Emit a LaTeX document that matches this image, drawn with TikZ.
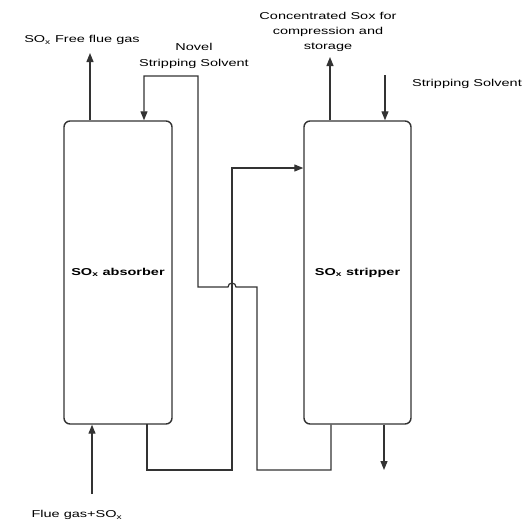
\documentclass[tikz,border=0pt]{standalone}
\usepackage{fontspec}
\setmainfont{Liberation Sans}
\usetikzlibrary{arrows.meta}
\newcommand{\W}[1]{\scalebox{1.45}[1]{#1}}
\begin{document}
\begin{tikzpicture}[x=1pt,y=-1pt,
  lbl/.style={font=\fontsize{10}{15}\selectfont, inner sep=0pt, text=black, align=center},
  vessel/.style={draw=black!80, line width=1.4pt, rounded corners=6pt, fill=white,
                 font=\fontsize{10}{12}\selectfont\bfseries, text=black},
  pipe/.style={draw=black!80, line width=1.2pt},
  arr/.style={pipe, -{Triangle[length=9pt,width=7pt]}}
]
\useasboundingbox (0,0) rectangle (523,523);

% vessels
\node[vessel, minimum width=108pt, minimum height=303pt] (abs) at (118,272.5) {\W{SO\textsubscript{x} absorber}};
\node[vessel, minimum width=107pt, minimum height=303pt] (str) at (357.5,272.5) {\W{SO\textsubscript{x} stripper}};

% named points
\coordinate (fgtop) at (90,53);
\coordinate (fgin) at (92,494);
\coordinate (absout) at (147,424);
\coordinate (absdn) at (147,470);
\coordinate (richb) at (232,470);
\coordinate (richt) at (232,168);
\coordinate (strret) at (331,424);
\coordinate (retb) at (331,470);
\coordinate (retc) at (257,470);
\coordinate (retd) at (257,287);
\coordinate (hopR) at (236,287);
\coordinate (rete) at (198,287);
\coordinate (retf) at (198,76);
\coordinate (retg) at (144,76);
\coordinate (soxtop) at (330,57);
\coordinate (solvtop) at (385,75);
\coordinate (botout) at (384,470);

% connectors
\draw[arr] (abs.north -| fgtop) -- (fgtop);
\draw[arr] (fgin) -- (abs.south -| fgin);
\draw[arr] (str.south -| strret) -- (retb) -- (retc) -- (retd) -- (hopR)
   arc[start angle=0, end angle=-180, radius=4] -- (rete) -- (retf) -- (retg) -- (abs.north -| retg);
\draw[arr] (absout) -- (absdn) -- (richb) -- (richt) -- (str.west |- richt);
\draw[arr] (str.north -| soxtop) -- (soxtop);
\draw[arr] (solvtop) -- (str.north -| solvtop);
\draw[arr] (str.south -| botout) -- (botout);

% labels
\node[lbl] (l1) at (82,40) {\W{SO\textsubscript{x} Free flue gas}};
\node[lbl, font=\fontsize{10}{16}\selectfont] (l2) at (194,56) {\W{Novel}\\\W{Stripping Solvent}};
\node[lbl] (l3) at (328,32) {\W{Concentrated Sox for}\\\W{compression and}\\\W{storage}};
\node[lbl] (l4) at (467,84) {\W{Stripping Solvent}};
\node[lbl] (l5) at (77,515) {\W{Flue gas+SO\textsubscript{x}}};
\end{tikzpicture}
\end{document}
